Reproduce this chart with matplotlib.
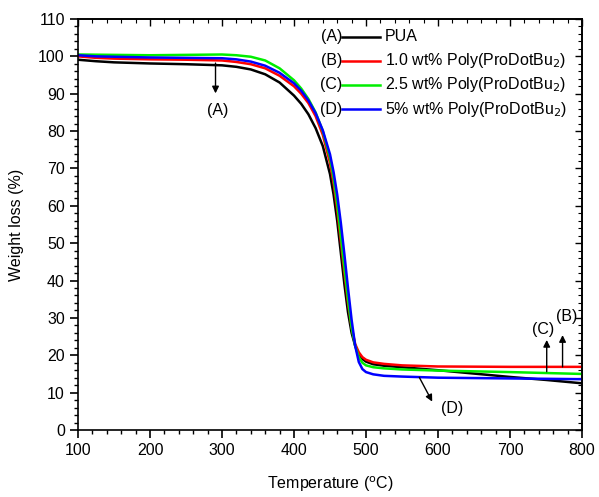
import numpy as np
import matplotlib as mpl
import matplotlib.pyplot as plt
from matplotlib.ticker import MultipleLocator

mpl.rcParams['font.family'] = 'Liberation Sans'
mpl.rcParams['font.size'] = 11.5
mpl.rcParams['axes.linewidth'] = 1.2

# -- TGA data --
temp_A = [100, 125, 150, 200, 250, 300, 320, 340, 360, 380, 400, 410, 420, 430, 440, 450,
          455, 460, 465, 470, 475, 480, 485, 490, 495, 500, 510, 525, 550, 600, 650, 700,
          750, 800]
wt_A = [99.1, 98.7, 98.4, 98.1, 97.9, 97.6, 97.2, 96.5, 95.2, 93.0, 89.5, 87.3, 84.5, 80.8,
        76.0, 68.5, 63.0, 56.0, 47.5, 39.0, 31.5, 26.0, 22.5, 20.3, 19.0, 18.3, 17.6, 17.2,
        16.8, 16.0, 15.1, 14.2, 13.4, 12.5]

temp_B = [100, 125, 150, 200, 250, 300, 320, 340, 360, 380, 400, 410, 420, 430, 440, 450,
          455, 460, 465, 470, 475, 480, 485, 490, 495, 500, 510, 525, 550, 600, 700, 800]
wt_B = [100.0, 99.6, 99.4, 99.2, 99.1, 98.9, 98.5, 97.9, 96.8, 94.8, 92.0, 90.0, 87.5, 84.0,
        79.0, 71.5, 66.0, 59.0, 50.5, 42.0, 34.0, 27.5, 23.0, 20.8, 19.5, 18.8, 18.1, 17.7,
        17.3, 17.0, 16.9, 16.9]

temp_C = [100, 150, 200, 250, 300, 320, 340, 360, 380, 400, 410, 420, 430, 440, 450,
          455, 460, 465, 470, 475, 480, 485, 490, 495, 500, 510, 525, 550, 600, 700, 800]
wt_C = [100.5, 100.4, 100.3, 100.4, 100.5, 100.3, 99.9, 98.9, 96.8, 93.6, 91.4, 88.6, 85.0,
        80.0, 72.8, 67.5, 60.5, 52.0, 43.5, 35.0, 27.5, 22.5, 19.5, 18.0, 17.3, 16.8, 16.5,
        16.2, 15.9, 15.5, 15.0]

temp_D = [100, 125, 150, 200, 250, 300, 320, 340, 360, 380, 400, 410, 420, 430, 440, 450,
          455, 460, 465, 470, 475, 480, 485, 490, 495, 500, 510, 525, 550, 600, 700, 800]
wt_D = [100.3, 100.0, 99.9, 99.7, 99.6, 99.5, 99.2, 98.6, 97.5, 95.6, 92.8, 90.8, 88.2, 84.8,
        80.2, 73.8, 69.0, 63.0, 55.5, 47.0, 38.0, 29.5, 22.5, 18.2, 16.3, 15.5, 14.9, 14.5,
        14.3, 14.0, 13.8, 13.6]

series = [
    ('(A)', 'PUA', temp_A, wt_A, 'k'),
    ('(B)', '1.0 wt% Poly(ProDotBu$_2$)', temp_B, wt_B, '#ff0000'),
    ('(C)', '2.5 wt% Poly(ProDotBu$_2$)', temp_C, wt_C, '#00ee00'),
    ('(D)', '5% wt% Poly(ProDotBu$_2$)', temp_D, wt_D, '#0000ff'),
]

fig = plt.figure(figsize=(5.99, 4.97), dpi=100)
sub = fig.add_axes([78/599., 1 - 430/497., 504/599., 411/497.])

for tag, lab, t, w, c in series:
    sub.plot(t, w, c=c, lw=1.8, solid_joinstyle='round')

# legend drawn by hand: "(A)---- PUA"
leg_y = [0.957, 0.899, 0.840, 0.781]
for (tag, lab, t, w, c), yy in zip(series, leg_y):
    sub.text(0.524, yy, tag, transform=sub.transAxes, ha='right', va='center')
    sub.plot([0.524, 0.599], [yy, yy], c=c, lw=1.8, transform=sub.transAxes)
    sub.text(0.609, yy, lab, transform=sub.transAxes, ha='left', va='center')

# arrows
arr = dict(arrowstyle='-|>', color='k', lw=1.0, mutation_scale=10, shrinkA=0, shrinkB=0)
sub.annotate('', xy=(291, 90.1), xytext=(291, 98.2), arrowprops=arr)
sub.text(294, 85.6, '(A)', ha='center', va='center')
sub.annotate('', xy=(773, 25.4), xytext=(773, 16.9), arrowprops=arr)
sub.text(779, 30.3, '(B)', ha='center', va='center')
sub.annotate('', xy=(751, 24.1), xytext=(751, 15.6), arrowprops=arr)
sub.text(746, 27.0, '(C)', ha='center', va='center')
sub.annotate('', xy=(592, 7.6), xytext=(574, 14.1), arrowprops=arr)
sub.text(619, 5.8, '(D)', ha='center', va='center')

sub.set_xlim([100, 800])
sub.set_ylim([0, 110])
sub.xaxis.set_major_locator(MultipleLocator(100))
sub.xaxis.set_minor_locator(MultipleLocator(20))
sub.yaxis.set_major_locator(MultipleLocator(10))
sub.yaxis.set_minor_locator(MultipleLocator(2))
sub.tick_params(which='major', direction='out', length=6, width=1.2)
sub.tick_params(which='minor', direction='out', length=3, width=1.0)

# inward ticks on top and right
top = sub.secondary_xaxis('top')
top.xaxis.set_major_locator(MultipleLocator(100))
top.xaxis.set_minor_locator(MultipleLocator(20))
top.tick_params(which='major', direction='in', length=5, width=1.0, labeltop=False)
top.tick_params(which='minor', direction='in', length=3, width=0.8)
right = sub.secondary_yaxis('right')
right.yaxis.set_major_locator(MultipleLocator(10))
right.yaxis.set_minor_locator(MultipleLocator(2))
right.tick_params(which='major', direction='in', length=5, width=1.0, labelright=False)
right.tick_params(which='minor', direction='in', length=3, width=0.8)

sub.set_xlabel('Temperature ($^{\\mathrm{o}}$C)', labelpad=12)
sub.set_ylabel('Weight loss (%)', labelpad=10)

fig.savefig('out.png', dpi=100)
plt.close()
